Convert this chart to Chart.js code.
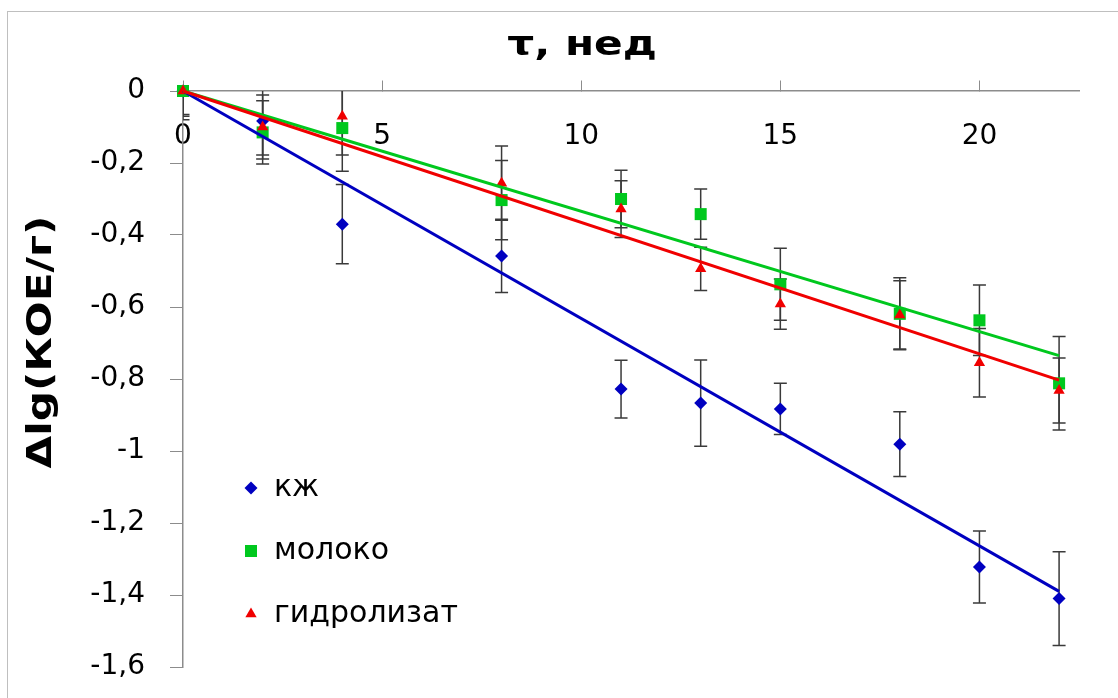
<!DOCTYPE html>
<html>
<head>
<meta charset="utf-8">
<script src="https://cdn.jsdelivr.net/npm/chart.js@4.4.1/dist/chart.umd.min.js"></script>
<style>
    html, body { margin: 0; padding: 0; background: #fff; }
    #wrap { width: 1118px; height: 698px; }
</style>
</head>
<body>
<div id="wrap"><canvas id="chart" width="1118" height="698"></canvas></div>
<script>
const weeks = [0, 2, 4, 8, 11, 13, 15, 18, 20, 22];

const kzh = [0, -0.083, -0.37, -0.458, -0.828, -0.867, -0.883, -0.981, -1.322, -1.41];
const kzhErr = [0.08, 0.095, 0.11, 0.102, 0.08, 0.12, 0.071, 0.09, 0.1, 0.13];

const milk = [0, -0.115, -0.103, -0.303, -0.3, -0.342, -0.537, -0.619, -0.637, -0.812];
const milkErr = [0.065, 0.088, 0.12, 0.11, 0.08, 0.07, 0.1, 0.1, 0.098, 0.13];

const hydro = [0, -0.1, -0.07, -0.256, -0.328, -0.494, -0.592, -0.622, -0.755, -0.832];
const hydroErr = [0.07, 0.089, 0.108, 0.103, 0.079, 0.06, 0.07, 0.095, 0.095, 0.09];

// linear trends through the origin: value read at the last week
const trendStart = [0, 0, 0];
const trendEnd = [-1.39, -0.735, -0.803];

const seriesNames = ['кж', 'молоко', 'гидролизат'];
const xTicks = [0, 5, 10, 15, 20];
const yTicks = [0, -0.2, -0.4, -0.6, -0.8, -1, -1.2, -1.4, -1.6];

const BLUE = '#0000c0';
const GREEN = '#00c81e';
const RED = '#f00000';
const FONT = 'DejaVu Sans';

function pts(ys) {
    return ys.map((y, i) => ({ x: weeks[i], y: y }));
}

function trend(i, color) {
    return {
        type: 'line',
        data: [
            { x: weeks[0], y: trendStart[i] },
            { x: weeks[weeks.length - 1], y: trendEnd[i] }
        ],
        borderColor: color,
        borderWidth: 3,
        pointRadius: 0,
        fill: false,
        clip: false
    };
}

function points(label, ys, errs, color, style, radius) {
    return {
        type: 'scatter',
        label: label,
        data: pts(ys),
        errors: errs,
        pointStyle: style,
        pointRadius: radius,
        pointBackgroundColor: color,
        pointBorderColor: color,
        pointBorderWidth: 0,
        clip: false
    };
}

// error bars, under the markers and clipped by the plot area
const errorBars = {
    id: 'errorBars',
    beforeDatasetsDraw(chart) {
        const ctx = chart.ctx;
        const area = chart.chartArea;
        const x = chart.scales.x, y = chart.scales.y;
        ctx.save();
        ctx.beginPath();
        ctx.rect(area.left, area.top, area.right - area.left, area.bottom - area.top);
        ctx.clip();
        ctx.strokeStyle = '#3a3a3a';
        ctx.lineWidth = 1.5;
        chart.data.datasets.forEach(ds => {
            if (!ds.errors) return;
            ds.data.forEach((p, i) => {
                const px = x.getPixelForValue(p.x);
                const top = y.getPixelForValue(p.y + ds.errors[i]);
                const bot = y.getPixelForValue(p.y - ds.errors[i]);
                ctx.beginPath();
                ctx.moveTo(px, top); ctx.lineTo(px, bot);
                ctx.moveTo(px - 6.5, top); ctx.lineTo(px + 6.5, top);
                ctx.moveTo(px - 6.5, bot); ctx.lineTo(px + 6.5, bot);
                ctx.stroke();
            });
        });
        ctx.restore();
    }
};

// outer frame, axis titles and legend placed inside the plot
const decor = {
    id: 'decor',
    beforeDraw(chart) {
        const ctx = chart.ctx;
        ctx.save();
        ctx.strokeStyle = '#bfbfbf';
        ctx.lineWidth = 1;
        ctx.strokeRect(7.5, 11.5, 1200, 900);
        ctx.restore();
    },
    afterDraw(chart) {
        const ctx = chart.ctx;
        const area = chart.chartArea;
        ctx.save();
        ctx.fillStyle = '#000';
        ctx.font = 'bold 33px "' + FONT + '"';
        ctx.textAlign = 'center';
        ctx.textBaseline = 'middle';
        ctx.save();
        ctx.translate(area.left + 399, 46);
        ctx.scale(1.28, 1);
        ctx.fillText('τ, нед', 0, 0);
        ctx.restore();

        ctx.translate(42, 342);
        ctx.rotate(-Math.PI / 2);
        ctx.scale(1.28, 1);
        ctx.fillText('Δlg(КОЕ/г)', 0, 0);
        ctx.restore();

        // legend: кж, молоко, гидролизат
        const sets = [chart.data.datasets[5], chart.data.datasets[4], chart.data.datasets[3]];
        ctx.save();
        ctx.font = '30px "' + FONT + '"';
        ctx.textAlign = 'left';
        ctx.textBaseline = 'middle';
        sets.forEach((ds, i) => {
            const cy = area.top + 397 + i * 63;
            const cx = area.left + 68;
            ctx.fillStyle = ds.pointBackgroundColor;
            ctx.strokeStyle = ds.pointBackgroundColor;
            Chart.helpers.drawPoint(ctx, {
                pointStyle: ds.pointStyle,
                radius: ds.pointRadius,
                rotation: 0,
                borderWidth: 0
            }, cx, cy);
            ctx.fillStyle = '#000';
            ctx.fillText(ds.label, cx + 23, cy);
        });
        ctx.restore();
    }
};

function fmt(v) {
    return String(Math.round(v * 10) / 10).replace('.', ',');
}

new Chart(document.getElementById('chart'), {
    type: 'scatter',
    data: {
        datasets: [
            trend(2, RED),
            trend(1, GREEN),
            trend(0, BLUE),
            points(seriesNames[2], hydro, hydroErr, RED, 'triangle', 6.5),
            points(seriesNames[1], milk, milkErr, GREEN, 'rect', 8.5),
            points(seriesNames[0], kzh, kzhErr, BLUE, 'rectRot', 6.5)
        ]
    },
    options: {
        responsive: false,
        animation: false,
        layout: { padding: { top: 91, right: 39, bottom: 31, left: 0 } },
        plugins: {
            legend: { display: false },
            tooltip: { enabled: false },
            title: { display: false }
        },
        scales: {
            x: {
                type: 'linear',
                position: { y: 0 },
                min: 0,
                max: 22.5,
                afterBuildTicks: s => { s.ticks = xTicks.map(v => ({ value: v })); },
                afterFit: s => { s.height = 0; },
                grid: { drawOnChartArea: false, drawTicks: true, tickLength: -11, color: '#8c8c8c' },
                border: { color: '#8c8c8c', width: 1.5 },
                ticks: {
                    color: '#000',
                    padding: 40,
                    maxRotation: 0,
                    font: { family: FONT, size: 28 },
                    callback: v => fmt(v)
                }
            },
            y: {
                type: 'linear',
                min: -1.6,
                max: 0,
                afterBuildTicks: s => { s.ticks = yTicks.map(v => ({ value: v })); },
                afterFit: s => {
                    s.width = 183;
                    s.paddingTop = 0;
                    s.paddingBottom = 0;
                },
                grid: { drawOnChartArea: false, drawTicks: true, tickLength: 13, color: '#8c8c8c' },
                border: { color: '#8c8c8c', width: 1.5 },
                ticks: {
                    color: '#000',
                    padding: 25,
                    font: { family: FONT, size: 28 },
                    callback: v => fmt(v)
                }
            }
        }
    },
    plugins: [errorBars, decor]
});
</script>
</body>
</html>
